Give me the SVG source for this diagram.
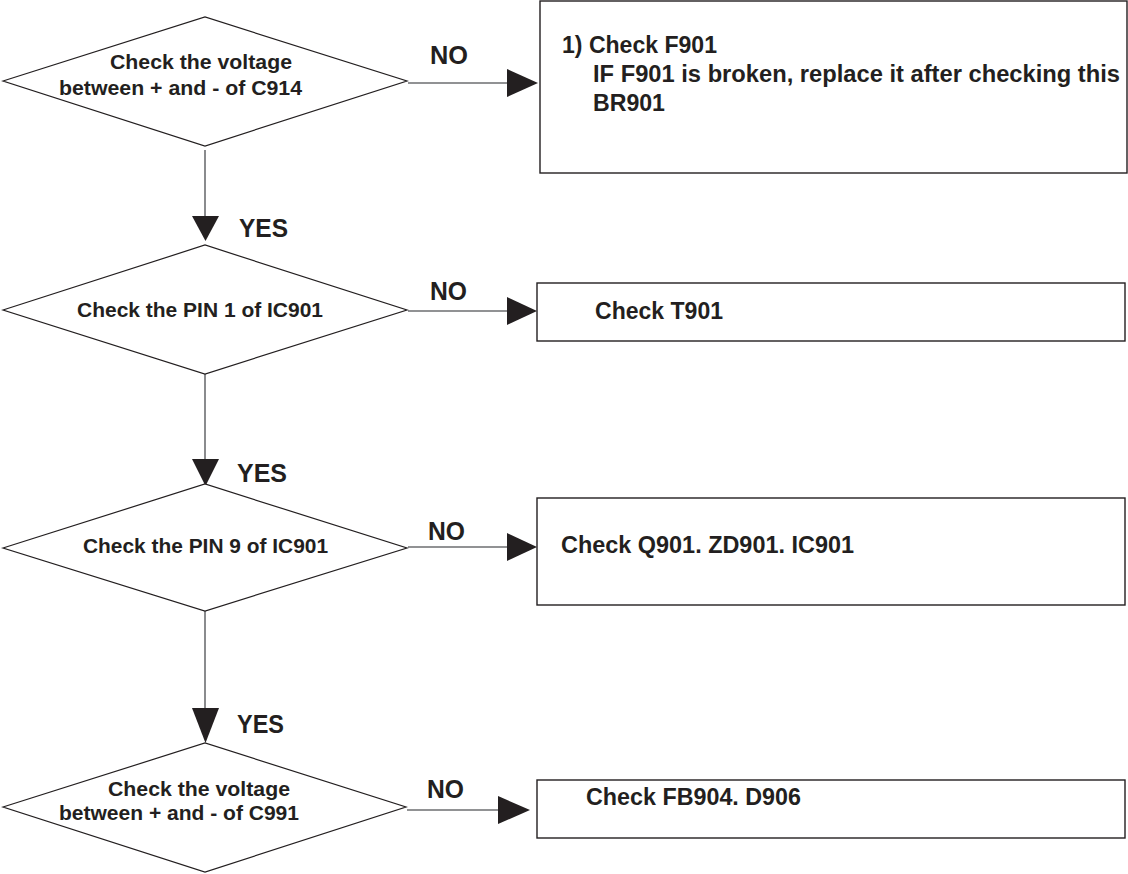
<svg xmlns="http://www.w3.org/2000/svg" width="1128" height="874" viewBox="0 0 1128 874">
<style>
.dia{fill:#fff;stroke:#231f20;stroke-width:1.2}
.box{fill:#fff;stroke:#231f20;stroke-width:1.4}
.con{stroke:#6d6e71;stroke-width:1.6;fill:none}
.head{fill:#231f20;stroke:none}
text{font-family:"Liberation Sans",Arial,sans-serif;font-weight:bold;fill:#231f20}
.dt{font-size:21px}
.bt{font-size:23px}
.lb{font-size:25px}
</style>
<rect width="1128" height="874" fill="#fff"/>
<g id="connectors">
<line class="con" x1="205" y1="150" x2="205" y2="217"/>
<polygon class="head" points="192,216 219,216 205.5,241"/>
<line class="con" x1="205" y1="374" x2="205" y2="460"/>
<polygon class="head" points="192,459 219,459 205.5,486"/>
<line class="con" x1="205" y1="611" x2="205" y2="709"/>
<polygon class="head" points="192,708 219,708 205.5,743"/>
<line class="con" x1="408" y1="83" x2="508" y2="83"/>
<polygon class="head" points="507,69 507,97 538,83"/>
<line class="con" x1="408" y1="311" x2="508" y2="311"/>
<polygon class="head" points="507,297 507,325 537,311"/>
<line class="con" x1="408" y1="547" x2="508" y2="547"/>
<polygon class="head" points="507,533 507,561 537,547"/>
<line class="con" x1="407" y1="810" x2="499" y2="810"/>
<polygon class="head" points="498,796 498,824 530,810"/>
<text class="lb" x="430" y="64" textLength="38" lengthAdjust="spacingAndGlyphs">NO</text>
<text class="lb" x="430" y="300" textLength="37" lengthAdjust="spacingAndGlyphs">NO</text>
<text class="lb" x="428" y="540" textLength="37" lengthAdjust="spacingAndGlyphs">NO</text>
<text class="lb" x="427" y="798" textLength="37" lengthAdjust="spacingAndGlyphs">NO</text>
<text class="lb" x="239" y="237" textLength="49" lengthAdjust="spacingAndGlyphs">YES</text>
<text class="lb" x="237" y="482" textLength="50" lengthAdjust="spacingAndGlyphs">YES</text>
<text class="lb" x="237" y="733" textLength="47" lengthAdjust="spacingAndGlyphs">YES</text>
</g>
<g id="d1">
<polygon class="dia" points="3,81 205,17 407,81 205,146"/>
<text class="dt" x="110" y="69" textLength="182" lengthAdjust="spacingAndGlyphs">Check the voltage</text>
<text class="dt" x="59" y="95" textLength="243" lengthAdjust="spacingAndGlyphs">between + and - of C914</text>
</g>
<g id="d2">
<polygon class="dia" points="3,310 205,245 407,310 205,374"/>
<text class="dt" x="77" y="317" textLength="246" lengthAdjust="spacingAndGlyphs">Check the PIN 1 of IC901</text>
</g>
<g id="d3">
<polygon class="dia" points="3,548 205,484 407,548 205,611"/>
<text class="dt" x="83" y="553" textLength="245" lengthAdjust="spacingAndGlyphs">Check the PIN 9 of IC901</text>
</g>
<g id="d4">
<polygon class="dia" points="3,807 205,743 406,807 205,872"/>
<text class="dt" x="108" y="796" textLength="182" lengthAdjust="spacingAndGlyphs">Check the voltage</text>
<text class="dt" x="59" y="820" textLength="240" lengthAdjust="spacingAndGlyphs">between + and - of C991</text>
</g>
<g id="b1">
<rect class="box" x="540" y="1" width="587" height="172"/>
<text class="bt" x="562" y="53" textLength="155" lengthAdjust="spacingAndGlyphs">1) Check F901</text>
<text class="bt" x="593" y="82" textLength="527" lengthAdjust="spacingAndGlyphs">IF F901 is broken, replace it after checking this</text>
<text class="bt" x="593" y="111" textLength="72" lengthAdjust="spacingAndGlyphs">BR901</text>
</g>
<g id="b2">
<rect class="box" x="537" y="283" width="588" height="58"/>
<text class="bt" x="595" y="319" textLength="128" lengthAdjust="spacingAndGlyphs">Check T901</text>
</g>
<g id="b3">
<rect class="box" x="537" y="498" width="588" height="107"/>
<text class="bt" x="561" y="553" textLength="293" lengthAdjust="spacingAndGlyphs">Check Q901. ZD901. IC901</text>
</g>
<g id="b4">
<rect class="box" x="537" y="780" width="588" height="58"/>
<text class="bt" x="586" y="805" textLength="215" lengthAdjust="spacingAndGlyphs">Check FB904. D906</text>
</g>
</svg>
